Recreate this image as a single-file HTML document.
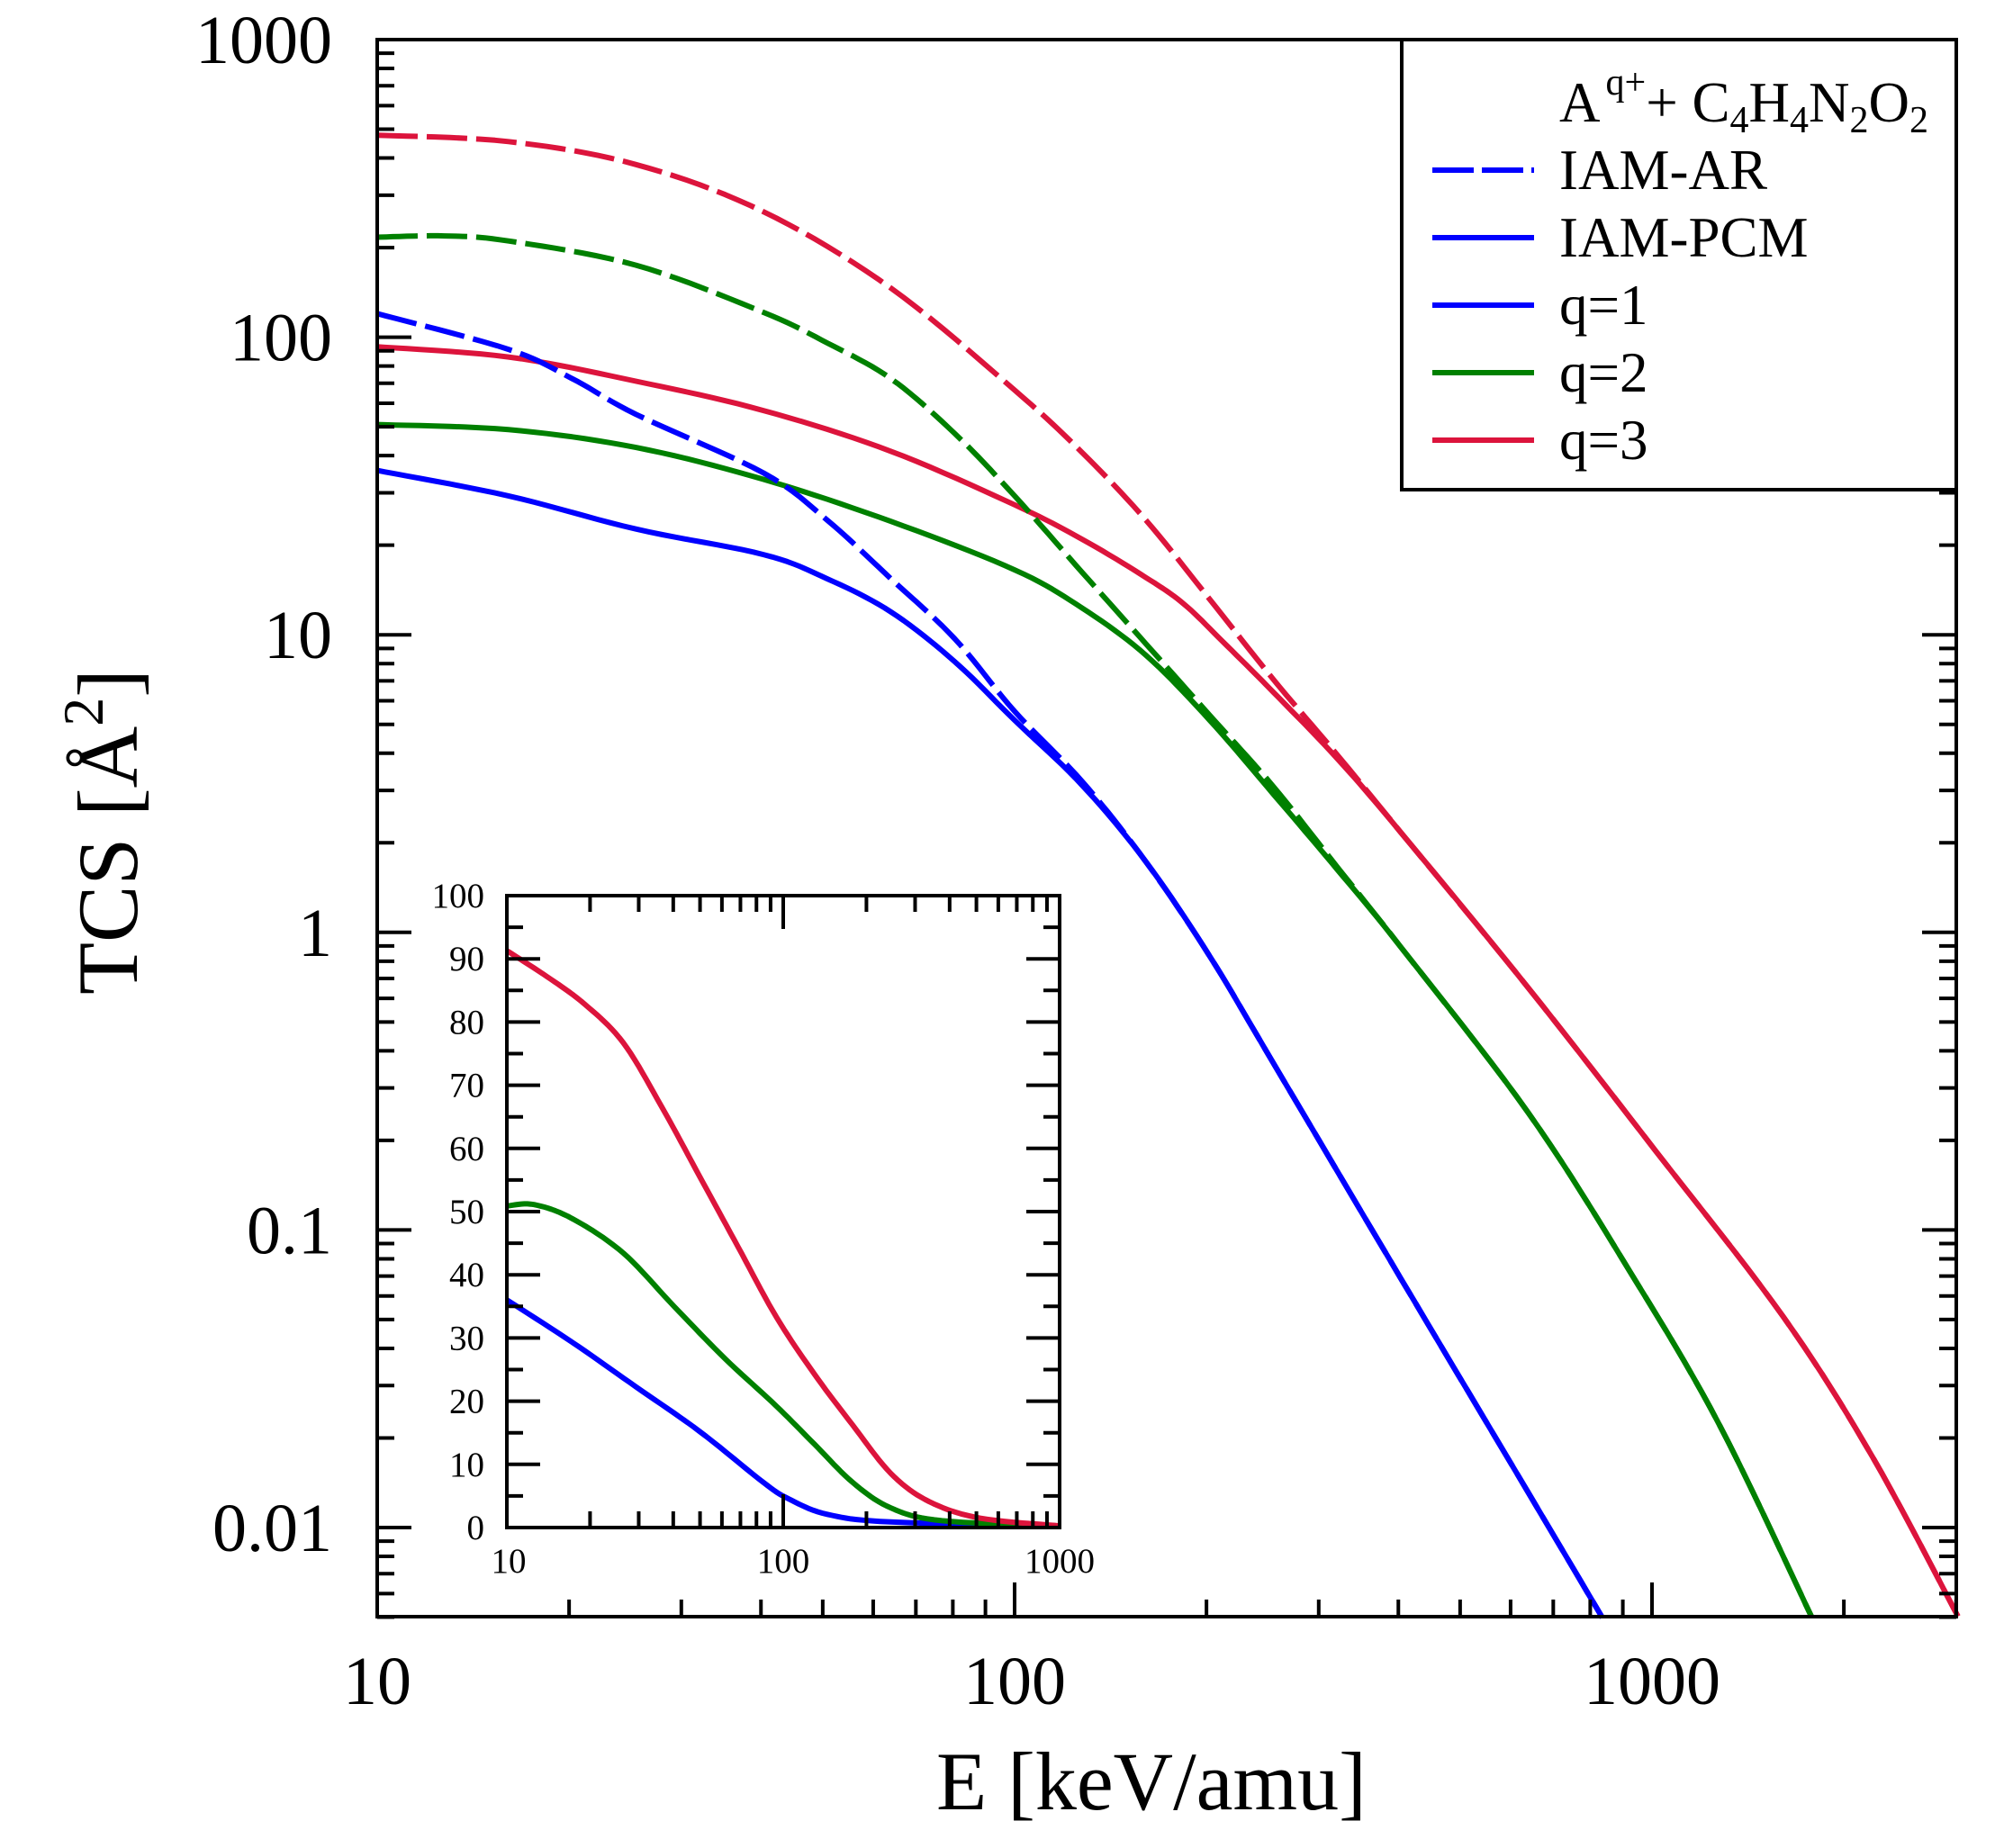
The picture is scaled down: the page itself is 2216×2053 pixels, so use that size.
<!DOCTYPE html>
<html><head><meta charset="utf-8"><style>
html,body{margin:0;padding:0;background:#fff}
svg{display:block}
text{font-family:"Liberation Serif","DejaVu Serif",serif;fill:#000}
</style></head><body>
<svg id="s" width="2216" height="2053" viewBox="0 0 2216 2053" xmlns="http://www.w3.org/2000/svg">
<rect width="2216" height="2053" fill="#fff"/>
<g id="curves" fill="none" stroke-width="6" stroke-linejoin="round"></g>
<g id="ticks" stroke="#000" stroke-width="4"></g>
<rect x="419" y="44" width="1754" height="1752" fill="none" stroke="#000" stroke-width="4"/>
<rect x="563" y="995" width="614" height="702" fill="#fff" stroke="none"/>
<g id="icurves" fill="none" stroke-width="6" stroke-linejoin="round"></g>
<g id="iticks" stroke="#000" stroke-width="4"></g>
<rect x="563" y="995" width="614" height="702" fill="none" stroke="#000" stroke-width="4"/>
<g id="labels"></g>
<rect x="1557" y="44" width="616" height="500" fill="#fff" stroke="#000" stroke-width="4"/>
<text x="1732" y="135" font-size="63">A<tspan font-size="42" dy="-30" dx="6">q+</tspan><tspan dy="30">+ C</tspan><tspan font-size="42" dy="12">4</tspan><tspan dy="-12">H</tspan><tspan font-size="42" dy="12">4</tspan><tspan dy="-12">N</tspan><tspan font-size="42" dy="12">2</tspan><tspan dy="-12">O</tspan><tspan font-size="42" dy="12">2</tspan></text>
<line x1="1591" y1="189" x2="1704" y2="189" stroke="#0000ff" stroke-width="6" stroke-dasharray="46 9"/>
<text x="1732" y="210" font-size="63">IAM-AR</text>
<line x1="1591" y1="264" x2="1704" y2="264" stroke="#0000ff" stroke-width="6"/>
<text x="1732" y="285" font-size="63">IAM-PCM</text>
<line x1="1591" y1="339" x2="1704" y2="339" stroke="#0000ff" stroke-width="6"/>
<text x="1732" y="360" font-size="63">q=1</text>
<line x1="1591" y1="414" x2="1704" y2="414" stroke="#008000" stroke-width="6"/>
<text x="1732" y="435" font-size="63">q=2</text>
<line x1="1591" y1="489" x2="1704" y2="489" stroke="#dc143c" stroke-width="6"/>
<text x="1732" y="510" font-size="63">q=3</text>
<text x="1040" y="2010" font-size="92">E [keV/amu]</text>
<text transform="translate(152,1105) rotate(-90)" font-size="95">TCS [Å<tspan font-size="64" dy="-38">2</tspan><tspan dy="38">]</tspan></text>
</svg>
<script>
var NS="http://www.w3.org/2000/svg";
function el(p,t,a,txt){var e=document.createElementNS(NS,t);for(var k in a)e.setAttribute(k,a[k]);if(txt!==undefined)e.textContent=txt;p.appendChild(e);return e;}
function cr(pts){var d="M"+pts[0][0].toFixed(1)+","+pts[0][1].toFixed(1);
 for(var i=0;i<pts.length-1;i++){var p0=pts[i>0?i-1:0],p1=pts[i],p2=pts[i+1],p3=pts[i+2<pts.length?i+2:i+1];
  for(var t=1;t<=10;t++){var s=t/10,s2=s*s,s3=s2*s;
   var x=0.5*((2*p1[0])+(-p0[0]+p2[0])*s+(2*p0[0]-5*p1[0]+4*p2[0]-p3[0])*s2+(-p0[0]+3*p1[0]-3*p2[0]+p3[0])*s3);
   var y=0.5*((2*p1[1])+(-p0[1]+p2[1])*s+(2*p0[1]-5*p1[1]+4*p2[1]-p3[1])*s2+(-p0[1]+3*p1[1]-3*p2[1]+p3[1])*s3);
   d+=" L"+x.toFixed(1)+","+y.toFixed(1);}}
 return d;}
function M(a){return a.map(function(p){return [419+(p[0]-297)*1.416,44+(p[1]-33)*1.416];});}
var B="#0000ff",G="#008000",R="#dc143c";
var rtail=[[1100,655],[1200,777],[1300,905],[1400,1035],[1470,1145],[1537,1270]];
var rs=[[297,274],[400,282],[500,301],[600,324],[700,356],[797,398],[850,425],[900,455],[930,476],[960,505],[1000,545],[1050,597]].concat(rtail);
var rd=[[297,108],[400,113],[500,131],[600,168],[700,228],[797,308],[850,357],[900,410],[950,472],[1000,535],[1050,594]].concat(rtail);
var gtail=[[1100,745],[1200,875],[1280,1000],[1350,1120],[1422,1270]];
var gs=[[297,335],[400,339],[500,353],[600,378],[700,411],[797,449],[850,479],[900,516],[950,567],[1000,625],[1050,684]].concat(gtail);
var gd=[[297,188],[350,187],[400,191],[500,210],[600,247],[650,271],[700,299],[750,342],[797,391],[850,451],[900,507],[950,563],[1000,619],[1050,682]].concat(gtail);
var btail=[[900,678],[950,752],[1000,836],[1100,1005],[1200,1173],[1258,1271]];
var bs=[[297,371],[400,391],[500,417],[600,437],[650,456],[700,482],[750,521],[797,567],[850,618]].concat(btail);
var bd=[[297,248],[400,276],[450,299],[500,327],[600,373],[650,410],[700,456],[750,503],[797,560],[850,615]].concat(btail);
var cg=document.getElementById("curves");
[[bs,B,0],[gs,G,0],[rs,R,0],[bd,B,1],[gd,G,1],[rd,R,1]].forEach(function(c){
 var a={d:cr(M(c[0])),stroke:c[1]};if(c[2])a["stroke-dasharray"]="45 10";el(cg,"path",a);});
var ig=document.getElementById("icurves");
var ir=[[399,748],[430,768],[460,790],[490,820],[520,870],[550,925],[580,980],[610,1035],[640,1080],[670,1120],[700,1158],[730,1180],[770,1193],[832,1199]];
var igr=[[399,948],[420,947],[450,958],[490,985],[530,1027],[570,1068],[610,1105],[640,1135],[670,1165],[700,1185],[740,1195],[832,1199]];
var ib=[[399,1022],[450,1055],[500,1090],[550,1125],[600,1165],[620,1178],[650,1190],[700,1196],[832,1199]];
[[ib,B],[igr,G],[ir,R]].forEach(function(c){el(ig,"path",{d:cr(M(c[0])),stroke:c[1]});});
var tg=document.getElementById("ticks"),lg=document.getElementById("labels");
function X(v){return 419+(Math.log10(v)-1)*708;}
function Y(v){return 44+(3-Math.log10(v))*330.6;}
for(var dec=10;dec<=1000;dec*=10){for(var m=1;m<10;m++){var v=dec*m;if(v>3000)break;var x=X(v),L=m==1?38:19;
 el(tg,"line",{x1:x,y1:1796,x2:x,y2:1796-L});}}
el(lg,"text",{x:X(10),y:1893,"font-size":76,"text-anchor":"middle"},"10");
el(lg,"text",{x:X(100),y:1893,"font-size":76,"text-anchor":"middle"},"100");
el(lg,"text",{x:X(1000),y:1893,"font-size":76,"text-anchor":"middle"},"1000");
var yl=["0.01","0.1","1","10","100","1000"];
for(var e=-3;e<=2;e++){var dec=Math.pow(10,e);for(var m=1;m<10;m++){var v=dec*m;if(v<0.005||v>1000.1)continue;var y=Y(v),L=m==1?38:19;
 el(tg,"line",{x1:419,y1:y,x2:419+L,y2:y});el(tg,"line",{x1:2173,y1:y,x2:2173-L,y2:y});}}
for(var i=0;i<6;i++){var v=Math.pow(10,i-2);el(lg,"text",{x:369,y:Y(v)+26,"font-size":76,"text-anchor":"end"},yl[i]);}
var it=document.getElementById("iticks");
function IX(v){return 563+(Math.log10(v)-1)*307;}
function IY(v){return 1697-v*7.02;}
for(var dec=10;dec<=100;dec*=10){for(var m=1;m<=10;m++){var v=dec*m;var x=IX(v),L=(m==1||m==10)?37:18;
 el(it,"line",{x1:x,y1:1697,x2:x,y2:1697-L});el(it,"line",{x1:x,y1:995,x2:x,y2:995+L});}}
for(var v=0;v<=100;v+=5){var y=IY(v),L=v%10==0?37:18;
 el(it,"line",{x1:563,y1:y,x2:563+L,y2:y});el(it,"line",{x1:1177,y1:y,x2:1177-L,y2:y});
 if(v%10==0)el(lg,"text",{x:538,y:y+13,"font-size":39,"text-anchor":"end"},String(v));}
el(lg,"text",{x:IX(10)+2,y:1747,"font-size":39,"text-anchor":"middle"},"10");
el(lg,"text",{x:IX(100),y:1747,"font-size":39,"text-anchor":"middle"},"100");
el(lg,"text",{x:IX(1000),y:1747,"font-size":39,"text-anchor":"middle"},"1000");
</script>
</body></html>
